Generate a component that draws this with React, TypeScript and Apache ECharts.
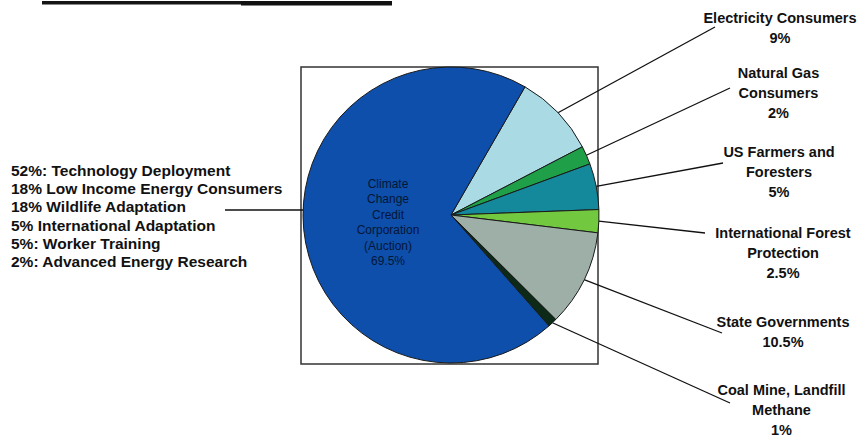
import React, { useEffect, useRef } from "react";
import * as echarts from "echarts";

// ---- data ----
const categories = [
  "Electricity Consumers",
  "Natural Gas Consumers",
  "US Farmers and Foresters",
  "International Forest Protection",
  "State Governments",
  "Coal Mine, Landfill Methane",
  "Climate Change Credit Corporation (Auction)",
];
const values = [9, 2, 5, 2.5, 10.5, 1, 69.5];
const labelTexts = [
  "Electricity Consumers\n9%",
  "Natural Gas\nConsumers\n2%",
  "US Farmers and\nForesters\n5%",
  "International Forest\nProtection\n2.5%",
  "State Governments\n10.5%",
  "Coal Mine, Landfill\nMethane\n1%",
];
const auctionBreakdown = [
  "52%: Technology Deployment",
  "18% Low Income Energy Consumers",
  "18% Wildlife Adaptation",
  "5% International Adaptation",
  "5%: Worker Training",
  "2%: Advanced Energy Research",
];
const auctionInnerText = ["Climate", "Change", "Credit", "Corporation", "(Auction)", "69.5%"];

// ---- styling / layout ----
const colors = ["#aadbe5", "#1f9f48", "#15899c", "#72c940", "#9eafa8", "#0d2a18", "#0d4fab"];
const CX = 451;
const CY = 215;
const R = 148;
const labelAnchor = [
  [780, 8],
  [778.5, 63],
  [779, 142],
  [783, 223],
  [783, 312],
  [781.5, 380],
  [11, 161],
];
const lineEnd = [
  [715, 27],
  [730, 88],
  [723, 163],
  [705, 233],
  [722, 333],
  [730, 403],
  [225, 210],
];
const innerAnchor = [388, 176];
const FONT = "'Liberation Sans', Arial, Helvetica, sans-serif";

export default function App() {
  const ref = useRef<HTMLDivElement>(null);

  useEffect(() => {
    if (!ref.current) return;
    const chart = echarts.init(ref.current, null, { renderer: "svg" });
    const total = values.reduce((a, b) => a + b, 0);
    const startAngle = 60;

    const data = categories.map((name, i) => {
      const item: any = {
        name,
        value: values[i],
        itemStyle: { color: colors[i] },
      };
      if (i === 6) {
        item.label = { fontSize: 15.5, lineHeight: 18.3, align: "left" };
      }
      return item;
    });

    const overlayData = categories.map((name, i) => ({
      name,
      value: values[i],
      label: { show: i === 6 },
    }));

    chart.setOption({
      animation: false,
      backgroundColor: "#ffffff",
      graphic: [
        {
          type: "rect",
          z: 0,
          shape: { x: 301, y: 67, width: 297, height: 297 },
          style: { fill: "none", stroke: "#333", lineWidth: 1.5 },
        },
        {
          type: "rect",
          z: 0,
          shape: { x: 42, y: 1, width: 200, height: 3.5 },
          style: { fill: "#151515" },
        },
        {
          type: "rect",
          z: 0,
          shape: { x: 241, y: 1, width: 151, height: 4.5 },
          style: { fill: "#111" },
        },
      ],
      series: [
        {
          type: "pie",
          z: 2,
          center: [CX, CY],
          radius: R,
          startAngle,
          clockwise: true,
          avoidLabelOverlap: false,
          itemStyle: { borderColor: "#1a1a1a", borderWidth: 1 },
          emphasis: { disabled: true },
          label: {
            show: true,
            position: "outside",
            formatter: (p: any) =>
              p.dataIndex === 6 ? auctionBreakdown.join("\n") : labelTexts[p.dataIndex],
            color: "#111",
            fontFamily: FONT,
            fontWeight: "bold",
            fontSize: 14.5,
            lineHeight: 20,
            align: "center",
          },
          labelLine: {
            show: true,
            length: 10,
            length2: 10,
            lineStyle: { color: "#111", width: 1.3 },
          },
          labelLayout: (params: any) => {
            const i = params.dataIndex;
            const a = labelAnchor[i];
            const end = lineEnd[i];
            let start: number[];
            if (i === 6) {
              start = [CX - R, end[1]];
            } else if (params.labelLinePoints && params.labelLinePoints[0]) {
              start = params.labelLinePoints[0];
            } else {
              let acc = 0;
              for (let k = 0; k < i; k++) acc += values[k];
              const mid = startAngle - ((acc + values[i] / 2) / total) * 360;
              const rad = (mid * Math.PI) / 180;
              start = [CX + R * Math.cos(rad), CY - R * Math.sin(rad)];
            }
            return {
              x: a[0],
              y: a[1],
              align: i === 6 ? "left" : "center",
              verticalAlign: "top",
              labelLinePoints: [start, end, end],
            };
          },
          data,
        },
        {
          type: "pie",
          z: 5,
          silent: true,
          center: [CX, CY],
          radius: R,
          startAngle,
          clockwise: true,
          avoidLabelOverlap: false,
          itemStyle: { color: "rgba(0,0,0,0)", borderWidth: 0 },
          emphasis: { disabled: true },
          label: {
            position: "inside",
            formatter: () => auctionInnerText.join("\n"),
            color: "#051638",
            textBorderWidth: 0,
            fontFamily: FONT,
            fontWeight: "normal",
            fontSize: 12,
            lineHeight: 15.5,
            align: "center",
          },
          labelLine: { show: false },
          labelLayout: () => ({
            x: innerAnchor[0],
            y: innerAnchor[1],
            align: "center",
            verticalAlign: "top",
          }),
          data: overlayData,
        },
      ],
    });
    return () => chart.dispose();
  }, []);

  return (
    <div
      ref={ref}
      style={{ position: "fixed", left: 0, top: 0, width: 863, height: 437 }}
    />
  );
}
